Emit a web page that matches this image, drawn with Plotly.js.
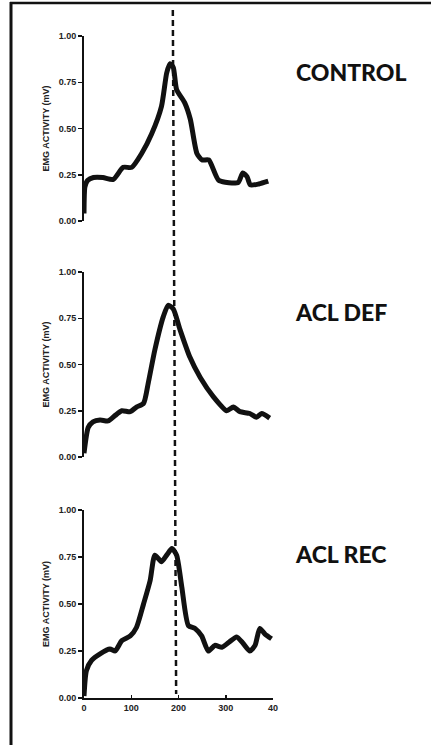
<!DOCTYPE html>
<html>
<head>
<meta charset="utf-8">
<script src="https://cdn.plot.ly/plotly-3.0.1.min.js"></script>
<style>
html,body{margin:0;padding:0;background:#fff;}
#chart{width:431px;height:745px;}
</style>
</head>
<body>
<div id="chart"></div>
<script>
// Time axis values (ms) and EMG activity (mV)
const controlX = [0, 2, 8, 20, 40, 62, 83, 101, 122, 143, 164, 175, 182, 189, 196, 213, 225, 239, 250, 264, 285, 313, 327, 336, 345, 352, 370, 390];
const controlY = [0.04, 0.185, 0.22, 0.235, 0.235, 0.225, 0.29, 0.29, 0.365, 0.47, 0.62, 0.80, 0.85, 0.83, 0.71, 0.64, 0.55, 0.365, 0.33, 0.33, 0.22, 0.205, 0.21, 0.26, 0.24, 0.195, 0.20, 0.215];

const aclDefX = [0, 9, 19, 34, 51, 66, 80, 98, 111, 126, 136, 150, 168, 178, 189, 203, 224, 246, 274, 302, 316, 330, 351, 365, 376, 393];
const aclDefY = [0.02, 0.16, 0.19, 0.20, 0.195, 0.225, 0.25, 0.245, 0.27, 0.29, 0.40, 0.58, 0.76, 0.82, 0.80, 0.69, 0.54, 0.43, 0.325, 0.25, 0.27, 0.245, 0.235, 0.215, 0.235, 0.21];

const aclRecX = [0, 5, 16, 34, 55, 66, 80, 98, 111, 126, 140, 150, 164, 175, 186, 196, 207, 221, 235, 249, 263, 277, 292, 306, 323, 337, 351, 362, 372, 383, 397];
const aclRecY = [0.01, 0.145, 0.20, 0.235, 0.26, 0.25, 0.305, 0.33, 0.375, 0.50, 0.625, 0.76, 0.725, 0.76, 0.795, 0.76, 0.59, 0.385, 0.37, 0.33, 0.25, 0.28, 0.27, 0.295, 0.325, 0.29, 0.25, 0.28, 0.37, 0.34, 0.315];

const panelLabels = ["CONTROL", "ACL DEF", "ACL REC"];
const yTickVals = [0, 0.25, 0.5, 0.75, 1.0];
const yTickText = ["0.00", "0.25", "0.50", "0.75", "1.00"];
const xTickVals = [0, 100, 200, 300, 400];
const xTickText = ["0", "100", "200", "300", "40"];
const peakTime = [188, 195]; // dashed reference line (top, bottom)
const yTitle = "EMG ACTIVITY (mV)";

const W = 431, H = 745;
const px = v => v / W;
const py = v => 1 - v / H;

const lineStyle = {color: '#111', width: 5, shape: 'spline', smoothing: 0.6};
const traces = [
  {x: controlX, y: controlY, xaxis: 'x', yaxis: 'y', mode: 'lines', line: lineStyle, hoverinfo: 'skip'},
  {x: aclDefX, y: aclDefY, xaxis: 'x', yaxis: 'y2', mode: 'lines', line: lineStyle, hoverinfo: 'skip'},
  {x: aclRecX, y: aclRecY, xaxis: 'x', yaxis: 'y3', mode: 'lines', line: lineStyle, hoverinfo: 'skip'}
];

const tickFont = {family: 'Liberation Sans, Arial, sans-serif', size: 9, color: '#222', weight: 700};
function yAxis(domain) {
  return {
    domain: domain, anchor: 'x', range: [0, 1], showgrid: false, zeroline: false,
    showline: true, linecolor: '#111', linewidth: 2,
    ticks: 'outside', ticklen: 4, tickwidth: 1.5, tickcolor: '#111',
    tickvals: yTickVals, ticktext: yTickText, tickfont: tickFont,
    title: {text: yTitle, font: {family: 'Liberation Sans, Arial, sans-serif', size: 9, color: '#222', weight: 700}, standoff: 8},
    fixedrange: true
  };
}

const d1 = [py(221), py(36)];
const d2 = [py(457), py(272)];
const d3 = [py(698), py(510)];

const titleFont = {family: 'Lato, Open Sans, sans-serif', size: 23, color: '#111', weight: 900};
const layout = {
  width: W, height: H,
  margin: {l: 0, r: 0, t: 0, b: 0},
  paper_bgcolor: '#fff', plot_bgcolor: 'rgba(0,0,0,0)',
  showlegend: false,
  xaxis: {
    domain: [px(84), px(273)], range: [0, 400], anchor: 'y3',
    showgrid: false, zeroline: false, showline: true, linecolor: '#111', linewidth: 2,
    ticks: 'inside', ticklen: 3, tickwidth: 1.5, tickcolor: '#111',
    tickvals: xTickVals, ticktext: xTickText,
    tickfont: {family: 'Liberation Sans, Arial, sans-serif', size: 9, color: '#222', weight: 700},
    fixedrange: true
  },
  yaxis: yAxis(d1),
  yaxis2: yAxis(d2),
  yaxis3: yAxis(d3),
  annotations: [
    {text: panelLabels[0], xref: 'paper', yref: 'paper', x: px(294), y: py(72), xanchor: 'left', yanchor: 'middle', showarrow: false, font: titleFont},
    {text: panelLabels[1], xref: 'paper', yref: 'paper', x: px(293), y: py(312), xanchor: 'left', yanchor: 'middle', showarrow: false, font: titleFont},
    {text: panelLabels[2], xref: 'paper', yref: 'paper', x: px(293), y: py(554), xanchor: 'left', yanchor: 'middle', showarrow: false, font: titleFont}
  ],
  shapes: [
    {type: 'line', xref: 'paper', yref: 'paper', x0: px(10), x1: 1, y0: py(3), y1: py(3), line: {color: '#111', width: 2.5}},
    {type: 'line', xref: 'paper', yref: 'paper', x0: px(11), x1: px(11), y0: py(2), y1: 0, line: {color: '#111', width: 3}},
    {type: 'line', xref: 'x', yref: 'paper', x0: peakTime[0], x1: peakTime[1], y0: py(10), y1: py(694), line: {color: '#111', width: 2.5, dash: '6px,4px'}}
  ]
};

Plotly.newPlot('chart', traces, layout, {displayModeBar: false, staticPlot: true});
</script>
</body>
</html>
